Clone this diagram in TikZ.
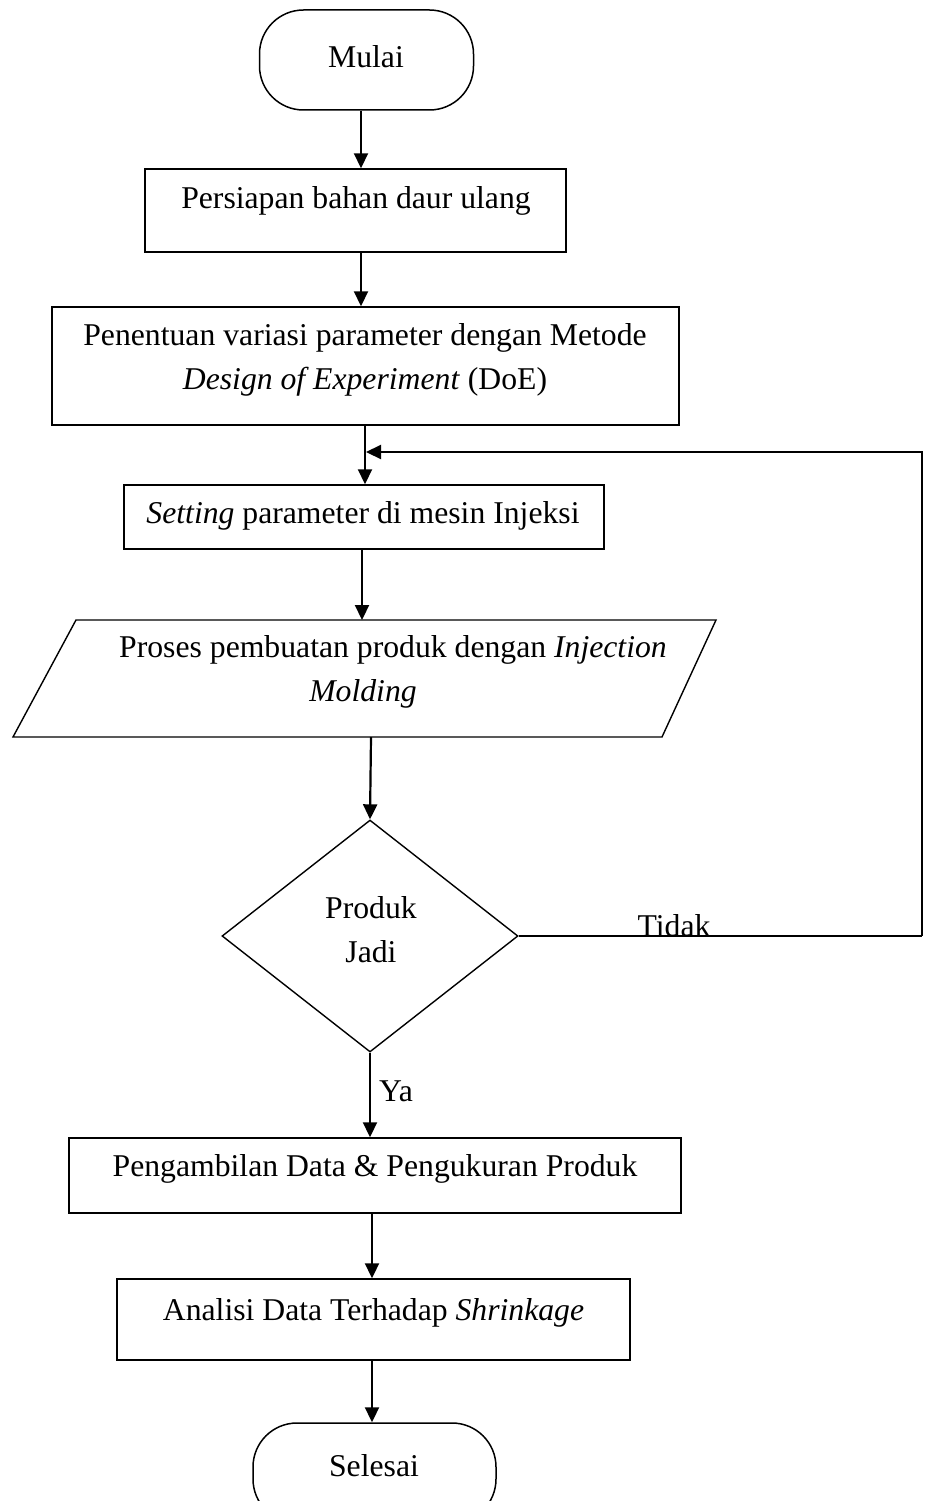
\documentclass[tikz,border=0pt]{standalone}
\usepackage{fontspec}
\setmainfont{Liberation Serif}
\usetikzlibrary{arrows.meta,shapes.geometric}
\begin{document}
\begin{tikzpicture}[x=1pt,y=-1pt,
  box/.style={draw,line width=1.5pt,rectangle,inner sep=0pt},
  term/.style={draw,line width=1.5pt,rectangle,rounded corners=44pt,inner sep=0pt,minimum width=214pt,minimum height=100pt},
  dec/.style={draw,line width=1.4pt,diamond,inner sep=0pt,minimum width=296pt,minimum height=232pt},
  txt/.style={inner sep=0pt,align=center,font=\fontsize{31.7}{44}\selectfont},
  arr/.style={line width=2.2pt,-{Triangle[length=15pt,width=14pt]}},
  ln/.style={line width=1.4pt}]
\useasboundingbox (0,0) rectangle (924,1501);

% shapes
\node[term] (mulai) at (366.5,60) {};
\node[box,minimum width=421pt,minimum height=83pt] (b1) at (355.5,210.5) {};
\node[box,minimum width=627pt,minimum height=118pt] (b2) at (365.5,366) {};
\node[box,minimum width=480pt,minimum height=64pt] (b3) at (364,517) {};
\coordinate (pTL) at (76,620);
\coordinate (pTR) at (716,620);
\coordinate (pBR) at (662,737);
\coordinate (pBL) at (13,737);
\draw[ln] (pTL) -- (pTR) -- (pBR) -- (pBL) -- cycle;
\coordinate (pTop) at (362,620);
\coordinate (pBot) at (371,737);
\node[dec] (dia) at (370,936) {};
\node[box,minimum width=612pt,minimum height=75pt] (b4) at (375,1175.5) {};
\node[box,minimum width=513pt,minimum height=81pt] (b5) at (373.5,1319.5) {};
\node[term,minimum width=243pt] (selesai) at (374.5,1473) {};

% texts
\node[txt] (t0) at (366,57) {Mulai};
\node[txt] (t1) at (356,201) {Persiapan bahan daur ulang};
\node[txt] (t2) at (365,360) {Penentuan variasi parameter dengan Metode\\\textit{Design of Experiment} (DoE)};
\node[txt] (t3) at (363,516) {\textit{Setting} parameter di mesin Injeksi};
\node[txt] (t4) at (393,672) {Proses pembuatan produk dengan \textit{Injection}\\\textit{Molding}\hspace*{60pt}};
\node[txt] (t5) at (371,930) {Produk\\Jadi};
\node[txt] (t6) at (375,1169) {Pengambilan Data \& Pengukuran Produk};
\node[txt] (t7) at (373.5,1313) {Analisi Data Terhadap \textit{Shrinkage}};
\node[txt] (t8) at (374,1466) {Selesai};

% spine x positions
\coordinate (x1) at (361,0);
\coordinate (x3) at (365,0);
\coordinate (x4) at (362,0);
\coordinate (x5) at (371,0);
\coordinate (x7) at (372,0);

\draw[arr] (mulai.south -| x1) -- (b1.north -| x1);
\draw[arr] (b1.south -| x1) -- (b2.north -| x1);
\draw[arr] (b2.south -| x3) -- (b3.north -| x3);
\draw[arr] (b3.south -| x4) -- (pTop);
\draw[arr] (pBot) -- (dia.north);
\draw[arr] (dia.south) -- (b4.north -| dia.south);
\draw[arr] (b4.south -| x7) -- (b5.north -| x7);
\draw[arr] (b5.south -| x7) -- (selesai.north -| x7);

% feedback loop
\coordinate (fbA) at (922,936);
\coordinate (fbB) at (922,452);
\coordinate (join) at (366,452);
\draw[ln] (dia.east) -- (fbA);
\draw[arr] (fbA) -- (fbB) -- (join);

% labels
\node[txt,anchor=base] (tidak) at (674,936) {Tidak};
\node[txt,anchor=base west] (ya) at (379,1101) {Ya};
\end{tikzpicture}
\end{document}
